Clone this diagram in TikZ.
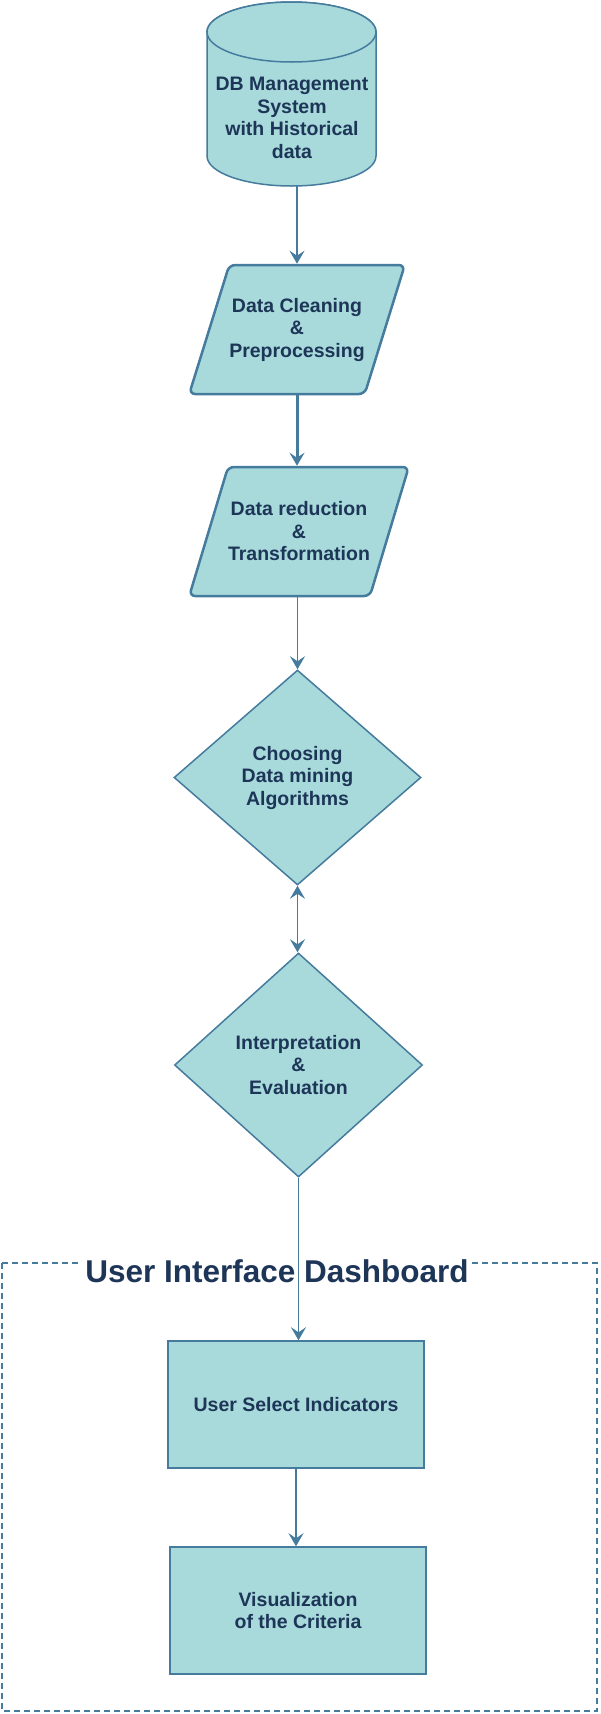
\documentclass[tikz,border=0pt]{standalone}
\usepackage{fontspec}
\setmainfont{Liberation Sans}
\usetikzlibrary{shapes.geometric, arrows.meta}

\begin{document}
\begin{tikzpicture}[x=1pt, y=-1pt, font=\bfseries\fontsize{19.5}{22.5}\selectfont]
    % Define colors
    \definecolor{borderColour}{HTML}{457B9D}
    \definecolor{fillColour}{HTML}{A8DADC}
    \definecolor{textColour}{HTML}{1D3557}

    % Define styles
    \tikzset{
        block/.style={draw=borderColour, fill=fillColour, text=textColour, align=center, line width=1.5pt, inner sep=0pt},
        slanted/.style={block, trapezium, trapezium left angle=72, trapezium right angle=108, trapezium stretches=true, inner ysep=30pt, minimum width=210pt, minimum height=129pt, rounded corners=6pt, line width=2.5pt},
        decision/.style={block, diamond, minimum width=247pt, minimum height=215pt},
        flow/.style={draw=borderColour, line width=1.5pt, -{Stealth[length=13pt, width=15pt, inset=5pt]}},
    }

    % Fix the page size
    \useasboundingbox (0,0) rectangle (600,1714);

    % Database cylinder
    \filldraw[block] (207,32) -- (207,156) arc[start angle=180, end angle=360, x radius=84.5pt, y radius=30pt]
        -- (376,32) arc[start angle=0, end angle=180, x radius=84.5pt, y radius=30pt] -- cycle;
    \draw[block] (291.5,32) ellipse[x radius=84.5pt, y radius=30pt];
    \node[text=textColour, align=center] (db) at (292,118) {DB Management\\System\\with Historical\\data};
    \coordinate (dbBottom) at (297,186);

    % Preparation steps
    \node[slanted] (clean) at (297,329.5) {Data Cleaning\\\&\\Preprocessing};
    \node[slanted] (reduce) at (299,531.5) {Data reduction\\\&\\Transformation};

    % Decisions
    \node[decision] (mining) at (297.5,777.5) {Choosing\\Data mining\\Algorithms};
    \node[decision, minimum width=248pt, minimum height=224pt] (evaluate) at (298.5,1065) {Interpretation\\\&\\Evaluation};

    % Dashboard frame with its title
    \draw[borderColour, line width=1.5pt, dash pattern=on 6pt off 4pt] (2,1263) rectangle (597,1711);
    \node[fill=white, text=textColour, font=\bfseries\fontsize{31.5}{36}\selectfont, inner sep=3pt, anchor=base] (uiTitle) at (277,1282) {User Interface Dashboard};

    % Dashboard boxes
    \node[block, minimum width=256pt, minimum height=127pt] (select) at (296,1404.5) {User Select Indicators};
    \node[block, minimum width=256pt, minimum height=127pt] (visual) at (298,1610.5) {Visualization\\of the Criteria};

    % Connect the steps
    \draw[flow] (dbBottom) -- (dbBottom |- clean.north);
    \draw[flow, line width=3pt] (clean.south) -- (reduce.north -| clean.south);
    \draw[flow] (reduce.south -| mining.north) -- (mining.north);
    \draw[flow, {Stealth[length=13pt, width=15pt, inset=5pt]}-{Stealth[length=13pt, width=15pt, inset=5pt]}] (mining.south) -- (evaluate.north -| mining.south);
    \draw[flow] (evaluate.south) -- (evaluate.south |- select.north);
    \draw[flow] (select.south) -- (visual.north -| select.south);

\end{tikzpicture}
\end{document}
